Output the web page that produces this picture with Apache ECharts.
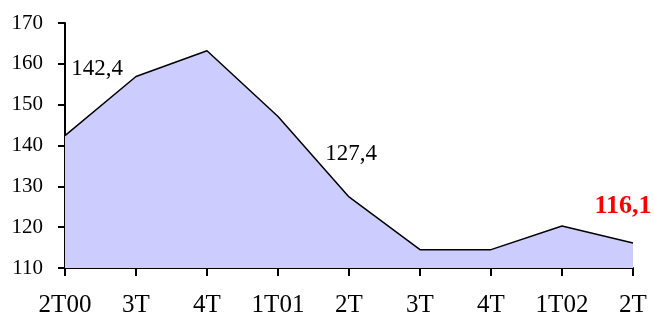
<!DOCTYPE html>
<html>
<head>
<meta charset="utf-8">
<script src="https://cdn.jsdelivr.net/npm/echarts@6/dist/echarts.min.js"></script>
<style>
  html, body { margin: 0; padding: 0; background: #fff; }
  #chart { width: 654px; height: 318px; }
</style>
</head>
<body>
<div id="chart"></div>
<script>
const categories = ['2T00', '3T', '4T', '1T01', '2T', '3T', '4T', '1T02', '2T'];
const values = [142.4, 156.9, 163.2, 147.1, 127.4, 114.5, 114.5, 120.3, 116.1];
const yTicks = { min: 110, max: 170, interval: 10 };

const font = 'Liberation Serif, Times New Roman, serif';

// labelled points: index -> label style
const labelled = {
  0: { offset: [32, -50], color: '#000', fontWeight: 'normal', fontSize: 23 },
  4: { offset: [2, -26], color: '#000', fontWeight: 'normal', fontSize: 23 },
  8: { offset: [-10, -19], color: '#ff0000', fontWeight: 'bold', fontSize: 26 }
};

const seriesData = values.map((v, i) => {
  const l = labelled[i];
  if (!l) return v;
  return {
    value: v,
    label: {
      show: true,
      position: 'top',
      offset: l.offset,
      color: l.color,
      fontWeight: l.fontWeight,
      fontSize: l.fontSize,
      fontFamily: font,
      formatter: p => String(p.value).replace('.', ',')
    }
  };
});

const chart = echarts.init(document.getElementById('chart'));
chart.setOption({
  animation: false,
  grid: { left: 65, right: 21, top: 23, bottom: 49 },
  xAxis: {
    type: 'category',
    data: categories,
    boundaryGap: false,
    axisLine: { lineStyle: { color: '#000', width: 2 } },
    axisTick: { show: true, length: 8, lineStyle: { color: '#000', width: 2 } },
    axisLabel: { color: '#000', fontSize: 25, fontFamily: font, margin: 25, interval: 0 },
    splitLine: { show: false }
  },
  yAxis: {
    type: 'value',
    min: yTicks.min,
    max: yTicks.max,
    interval: yTicks.interval,
    axisLine: { show: true, lineStyle: { color: '#000', width: 2 } },
    axisTick: { show: true, length: 7, lineStyle: { color: '#000', width: 2 } },
    axisLabel: { color: '#000', fontSize: 21, fontFamily: font, margin: 22 },
    splitLine: { show: false }
  },
  series: [{
    type: 'line',
    data: seriesData,
    symbol: 'circle',
    symbolSize: 0.1,
    itemStyle: { color: 'rgba(0,0,0,0)' },
    lineStyle: { color: '#000', width: 1.5 },
    areaStyle: { color: '#ccccff', opacity: 1, origin: 'start' },
    emphasis: { disabled: true }
  }]
});
</script>
</body>
</html>
